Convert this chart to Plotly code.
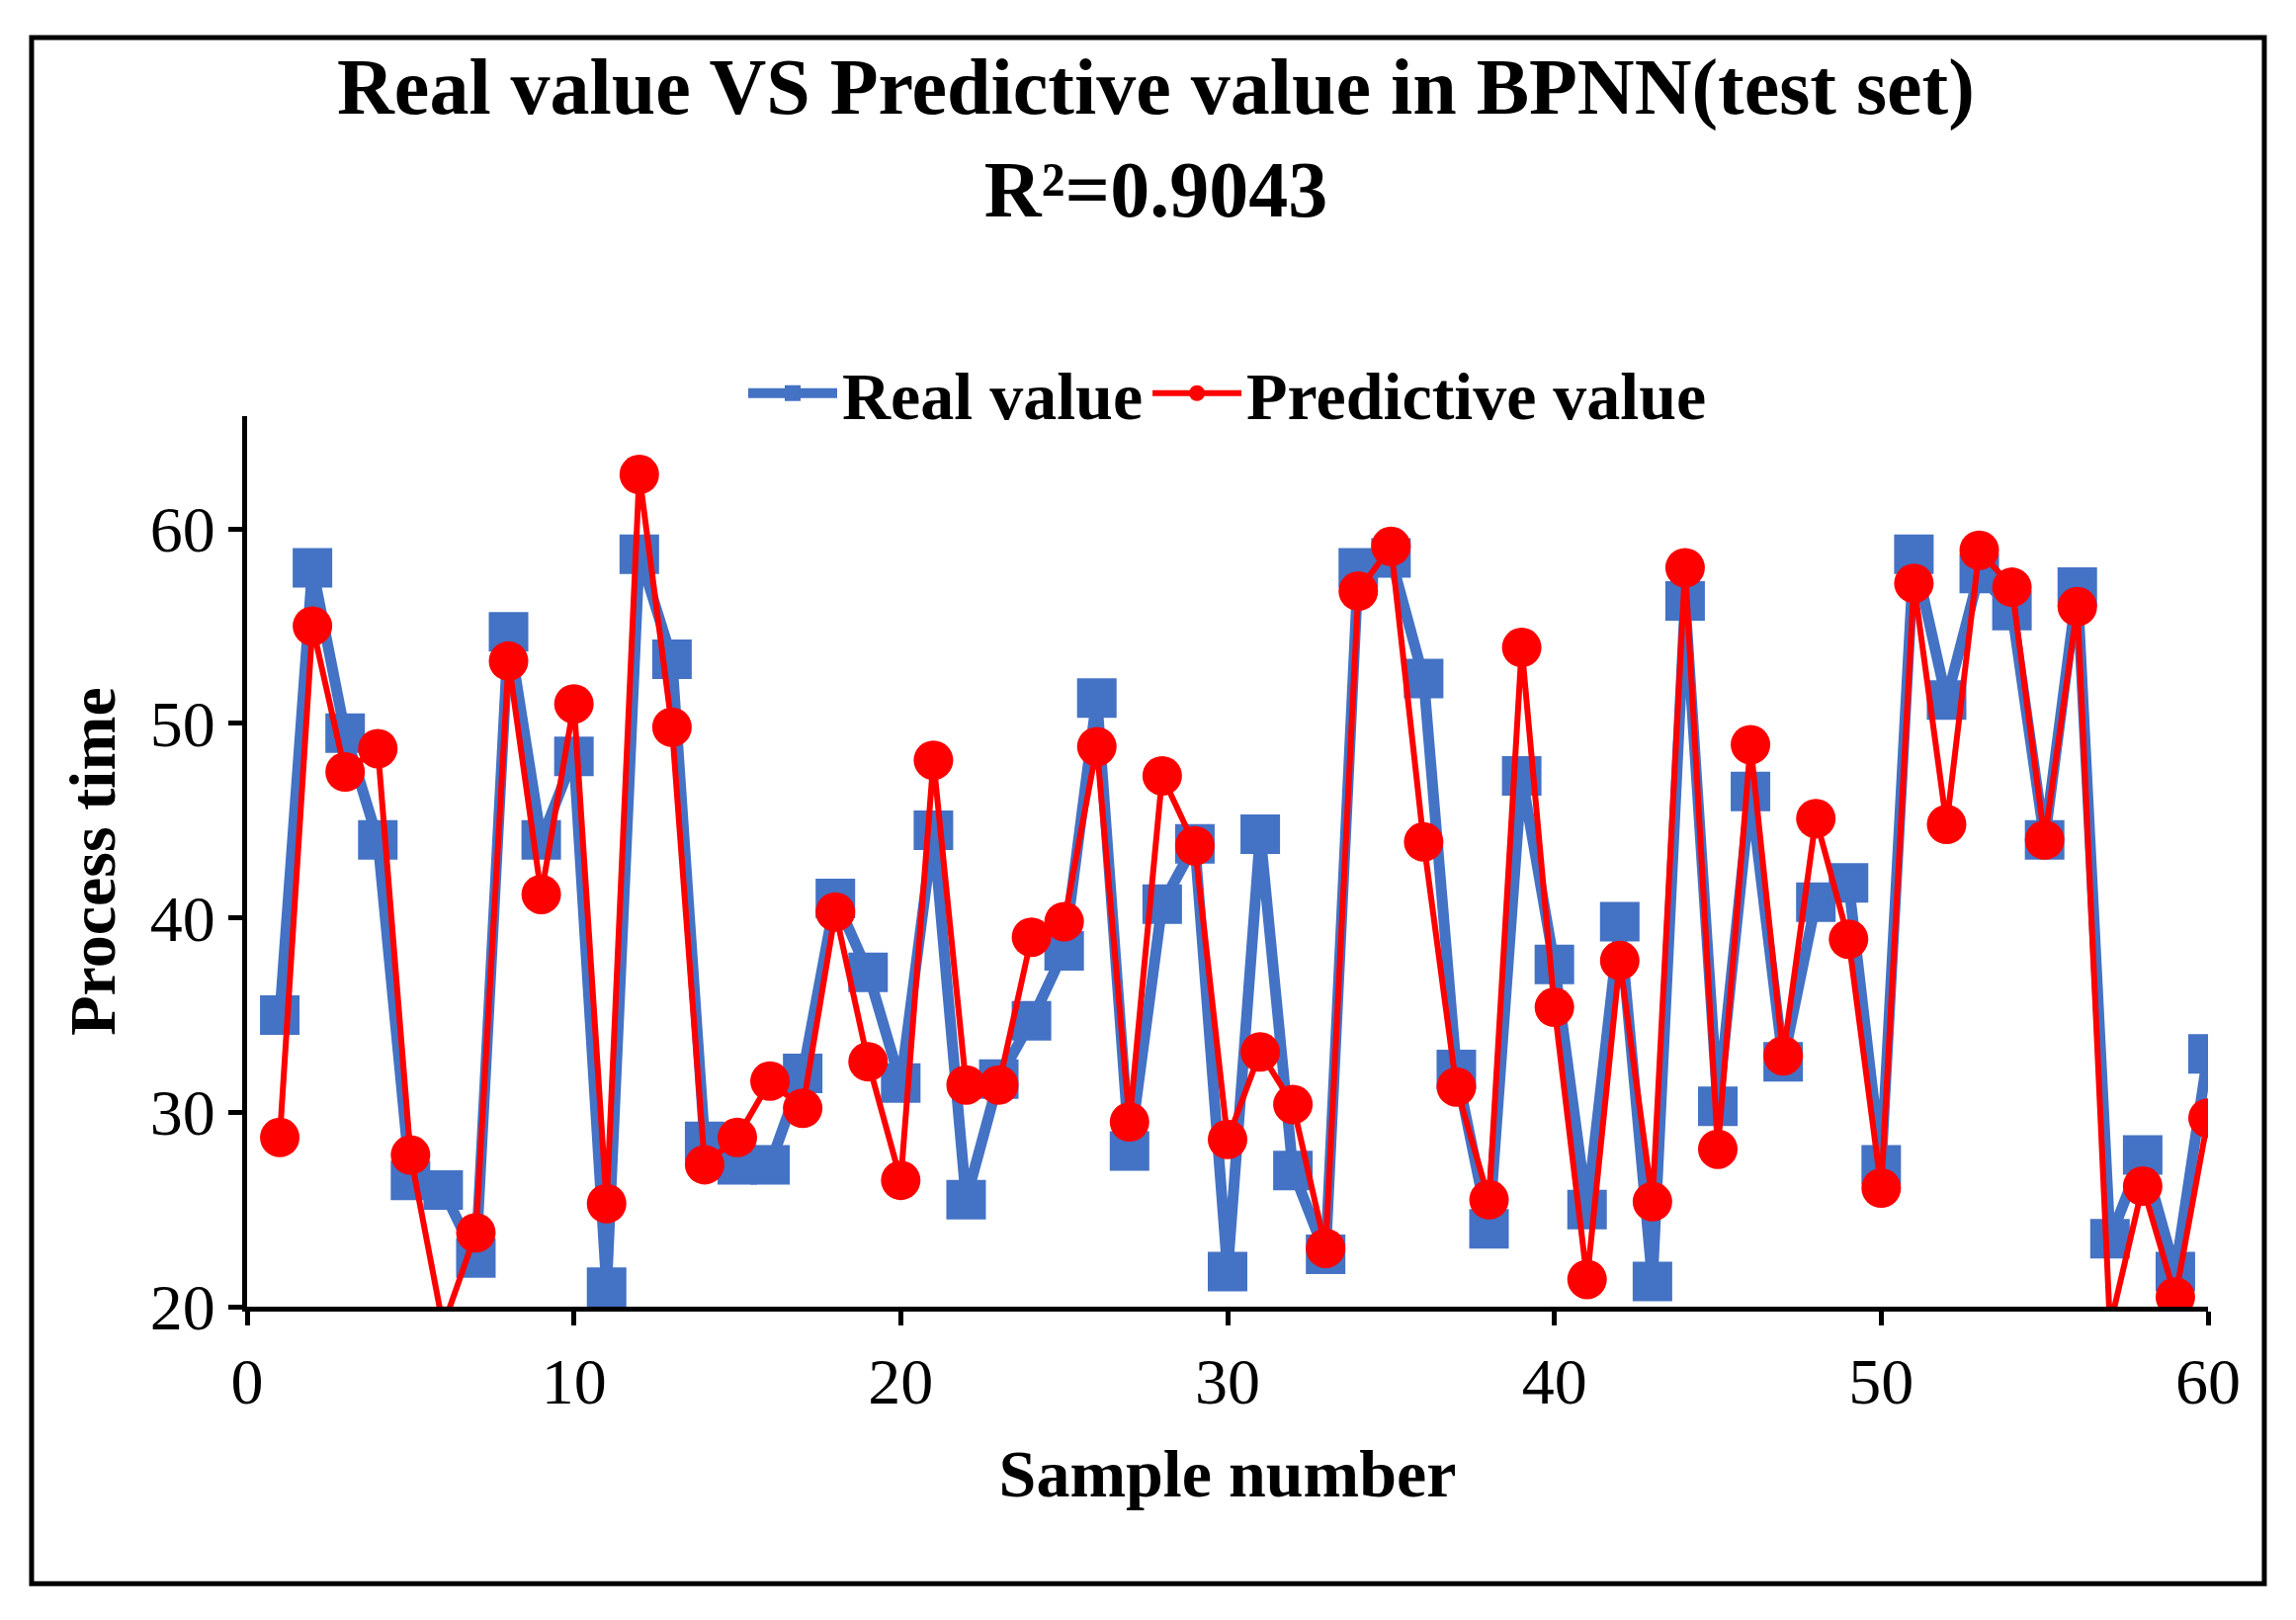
import plotly.graph_objects as go

samples = list(range(1, 61))
real_value = [35, 58, 49.5, 44, 26.5, 26, 22.5, 54.7, 44, 48.3,
              21, 58.7, 53.3, 28.5, 27.3, 27.3, 32, 41, 37.2, 31.5,
              44.5, 25.5, 31.7, 34.7, 38.3, 51.3, 28, 40.7, 43.8, 21.8,
              44.3, 27, 22.7, 58, 58.5, 52.3, 32.2, 24, 47.3, 37.6,
              25, 39.8, 21.3, 56.3, 30.3, 46.5, 32.6, 40.8, 41.8, 27.3,
              58.7, 51.2, 57.7, 55.8, 44, 57, 23.5, 27.8, 21.8, 33]
pred_value = [28.7, 55, 47.5, 48.7, 27.8, 19, 23.8, 53.2, 41.2, 51,
              25.3, 62.8, 49.8, 27.3, 28.7, 31.6, 30.2, 40.3, 32.6, 26.5,
              48.1, 31.4, 31.4, 39, 39.8, 48.8, 29.5, 47.3, 43.7, 28.6,
              33.1, 30.4, 23, 56.8, 59.1, 43.9, 31.3, 25.5, 53.9, 35.4,
              21.4, 37.8, 25.4, 58, 28.1, 48.9, 32.9, 45.1, 38.9, 26.1,
              57.2, 44.8, 58.9, 57, 44, 56, 19, 26.2, 20.5, 29.7]

serif = "Liberation Serif"

fig = go.Figure()
fig.add_trace(go.Scatter(x=samples, y=real_value, name="<b>Real value</b>",
                         mode="lines+markers",
                         line=dict(color="#4472C4", width=11),
                         marker=dict(symbol="square", size=40, color="#4472C4")))
fig.add_trace(go.Scatter(x=samples, y=pred_value, name="<b>Predictive value</b>",
                         mode="lines+markers",
                         line=dict(color="#FF0000", width=6),
                         marker=dict(symbol="circle", size=40, color="#FF0000")))

fig.update_layout(
    width=2323, height=1639,
    paper_bgcolor="white", plot_bgcolor="white",
    margin=dict(l=242, r=97, t=413, b=325),
    font=dict(family=serif, color="black", size=66),
    title=dict(text="<b>Real value VS Predictive value in BPNN(test set)<br>R²=0.9043</b>",
               x=0.5, xanchor="center", y=0.935, yanchor="top",
               font=dict(size=80, family=serif)),
    legend=dict(orientation="h", x=0.5, xanchor="center", y=1.0255, yanchor="middle",
                font=dict(size=68, family=serif), itemwidth=90,
                bgcolor="rgba(0,0,0,0)"),
    shapes=[dict(type="rect", xref="paper", yref="paper",
                 x0=-0.1099, x1=1.0287, y0=-0.311, y1=1.425,
                 line=dict(color="black", width=5))],
)

fig.update_xaxes(range=[0, 60], dtick=10, tick0=0, showgrid=False, zeroline=False,
                 showline=True, linecolor="black", linewidth=5,
                 ticks="outside", ticklen=14, tickwidth=5, tickcolor="black",
                 title=dict(text="<b>Sample number</b>", font=dict(size=68, family=serif),
                            standoff=35))
fig.update_yaxes(range=[20, 65.8], tickvals=[20, 30, 40, 50, 60], showgrid=False,
                 zeroline=False, showline=True, linecolor="black", linewidth=5,
                 ticks="outside", ticklen=14, tickwidth=5, tickcolor="black",
                 title=dict(text="<b>Process time</b>", font=dict(size=66, family=serif),
                            standoff=15))

fig.write_html("out.html")
